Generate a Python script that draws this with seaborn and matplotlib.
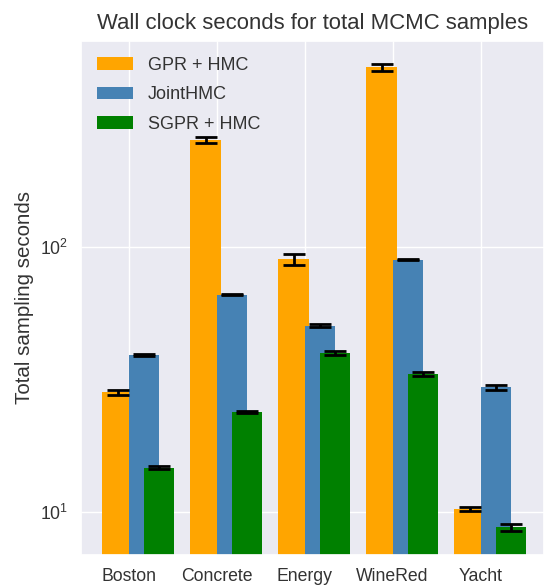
import numpy as np
import matplotlib
matplotlib.use("Agg")
import matplotlib.pyplot as plt
import seaborn as sns

# data
datasets = ["Boston", "Concrete", "Energy", "WineRed", "Yacht"]
gpr_hmc = [28.3, 254, 90, 478, 10.25]
gpr_hmc_err = [0.6, 7, 4, 15, 0.18]
joint_hmc = [39.1, 66.2, 50.6, 89.6, 29.6]
joint_hmc_err = [0.3, 0.4, 0.7, 0.5, 0.7]
sgpr_hmc = [14.7, 23.8, 39.8, 33.2, 8.75]
sgpr_hmc_err = [0.2, 0.2, 0.8, 0.6, 0.25]

sns.set_theme(style="darkgrid")
plt.rcParams['font.family'] = ['Liberation Sans', 'DejaVu Sans']
plt.rcParams['mathtext.fontset'] = 'custom'
plt.rcParams['mathtext.rm'] = 'Liberation Sans'

fig = plt.figure(figsize=(5.44, 5.85), dpi=100)
ax = fig.add_axes([0.149, 0.0513, 0.851, 0.8793])

x = np.arange(len(datasets))
width = 0.35
ekw = dict(elinewidth=2, capthick=2, ecolor="black")

# overlapping bars, drawn in this order
ax.bar(x - 0.30, gpr_hmc, width, align="edge", color="orange", linewidth=0,
       yerr=gpr_hmc_err, capsize=8, error_kw=ekw, label="GPR + HMC")
ax.bar(x, joint_hmc, width, align="edge", color="steelblue", linewidth=0,
       yerr=joint_hmc_err, capsize=8, error_kw=ekw, label="JointHMC")
ax.bar(x + 0.17, sgpr_hmc, width, align="edge", color="green", linewidth=0,
       yerr=sgpr_hmc_err, capsize=8, error_kw=ekw, label="SGPR + HMC")

ax.set_yscale("log")
ax.set_ylim(6.88, 603)
ax.set_xlim(-0.54, 4.72)
ax.set_xticks(x)
ax.set_xticklabels(datasets, fontsize=12.7, color="#333333")
ax.tick_params(axis="y", labelsize=12.7, labelcolor="#333333")
ax.set_ylabel("Total sampling seconds", fontsize=14.8, color="#333333")
ax.set_title("Wall clock seconds for total MCMC samples", fontsize=15.9,
             pad=8, color="#333333")
leg = ax.legend(loc="upper left", fontsize=13, frameon=False, labelspacing=0.7)
for t in leg.get_texts():
    t.set_color("#333333")

fig.savefig("out.png", dpi=100)
